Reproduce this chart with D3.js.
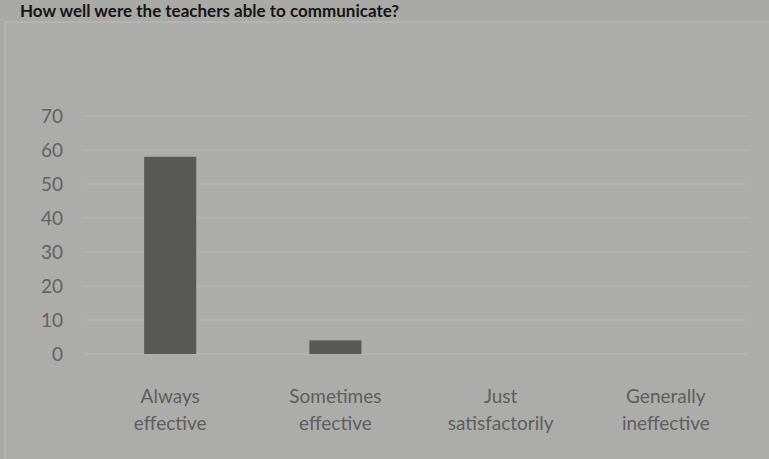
<!DOCTYPE html>
<html><head><meta charset="utf-8">
<script src="https://cdn.jsdelivr.net/npm/d3@7"></script>
<style>html,body{margin:0;padding:0;background:#a9a9a6;overflow:hidden}</style>
</head><body>
<svg id="c" width="769" height="459"></svg>
<script>
const categories = [["Always","effective"],["Sometimes","effective"],["Just","satisfactorily"],["Generally","ineffective"]];
const values = [58, 4, 0, 0];
const yTicks = [0,10,20,30,40,50,60,70];
const title = "How well were the teachers able to communicate?";

const svg = d3.select("#c");
const W = 769, H = 459;
const FONT = "Lato, 'Open Sans', sans-serif";
svg.append("rect").attr("width",W).attr("height",H).attr("fill","#a9a9a6");
svg.append("rect").attr("x",5).attr("y",22).attr("width",790).attr("height",460)
  .attr("fill","#acacaa").attr("stroke","#b6b6b4").attr("stroke-width",1.5);
svg.append("text").attr("x",20).attr("y",17).text(title)
  .attr("font-family",FONT).attr("font-weight","bold")
  .attr("font-size",17).attr("fill","#151515");

const x = d3.scaleBand().domain(categories.map((d,i)=>i)).range([88,748]).paddingInner(0.685).paddingOuter(0.34);
const y = d3.scaleLinear().domain([0,70]).range([354,116]);

const g = svg.append("g");
g.selectAll("line.grid").data(yTicks).join("line")
  .attr("x1",84).attr("x2",748).attr("y1",d=>y(d)).attr("y2",d=>y(d))
  .attr("stroke",d=>d===0?"#b9b9b6":"#b4b4b1").attr("stroke-width",1.2);

const yAxis = d3.axisLeft(y).tickValues(yTicks).tickSize(0).tickPadding(0);
const ya = svg.append("g").attr("transform","translate(63,0)").call(yAxis);
ya.select(".domain").remove();
ya.selectAll("text").attr("font-family",FONT).attr("font-size",19).attr("fill","#626260");

g.selectAll("rect.bar").data(values).join("rect")
  .attr("x",(d,i)=>x(i)).attr("width",x.bandwidth())
  .attr("y",d=>y(d)).attr("height",d=>y(0)-y(d))
  .attr("fill","#585857");

const xl = svg.append("g");
categories.forEach((c,i)=>{
  const t = xl.append("text").attr("x",x(i)+x.bandwidth()/2).attr("y",403)
    .attr("text-anchor","middle").attr("font-family",FONT)
    .attr("font-size",19).attr("fill","#5e5e5c");
  c.forEach((line,k)=>t.append("tspan").attr("x",x(i)+x.bandwidth()/2).attr("dy",k===0?0:27).text(line));
});
</script>
</body></html>
